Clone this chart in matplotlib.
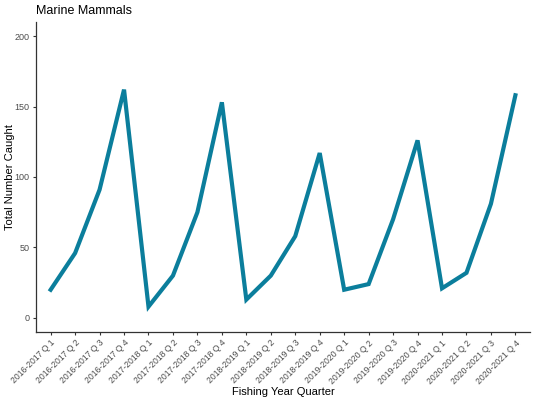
import numpy as np
from matplotlib import pyplot as plt

quarters = ['2016-2017 Q 1', '2016-2017 Q 2', '2016-2017 Q 3', '2016-2017 Q 4',
            '2017-2018 Q 1', '2017-2018 Q 2', '2017-2018 Q 3', '2017-2018 Q 4',
            '2018-2019 Q 1', '2018-2019 Q 2', '2018-2019 Q 3', '2018-2019 Q 4',
            '2019-2020 Q 1', '2019-2020 Q 2', '2019-2020 Q 3', '2019-2020 Q 4',
            '2020-2021 Q 1', '2020-2021 Q 2', '2020-2021 Q 3', '2020-2021 Q 4']
caught = [20, 46, 91, 162, 8, 30, 75, 153, 13, 30, 58, 117,
          20, 24, 70, 126, 21, 32, 81, 158]
y_ticks = [0, 50, 100, 150, 200]

plt.rcParams['font.family'] = ['Liberation Sans', 'DejaVu Sans']

fig = plt.figure(figsize=(5.33, 4), dpi=100)
ax = fig.add_axes([0.0675, 0.17, 0.927, 0.775])

x = np.arange(len(quarters))
ax.plot(x, caught, color='#0B7E9C', linewidth=3.0, solid_joinstyle='miter')

ax.set_xlim(-0.6, len(quarters) - 0.4)
ax.set_ylim(-10, 210)
ax.set_xticks(x)
ax.set_xticklabels(quarters, rotation=45, ha='right', rotation_mode='anchor',
                   fontsize=6.2, color='#4D4D4D')
ax.set_yticks(y_ticks)
ax.set_yticklabels([str(v) for v in y_ticks], fontsize=6.5, color='#4D4D4D')
ax.tick_params(length=2.5, width=0.8, color='#333333', pad=2)

for side in ['top', 'right']:
    ax.spines[side].set_visible(False)
for side in ['left', 'bottom']:
    ax.spines[side].set_linewidth(0.9)
    ax.spines[side].set_color('#333333')

ax.set_xlabel('Fishing Year Quarter', fontsize=8, labelpad=1)
ax.set_ylabel('Total Number Caught', fontsize=8)
ax.yaxis.set_label_coords(-0.043, 0.5)
ax.set_title('Marine Mammals', fontsize=9, loc='left', x=-0.0, pad=6)

fig.savefig('out.png', dpi=100)
